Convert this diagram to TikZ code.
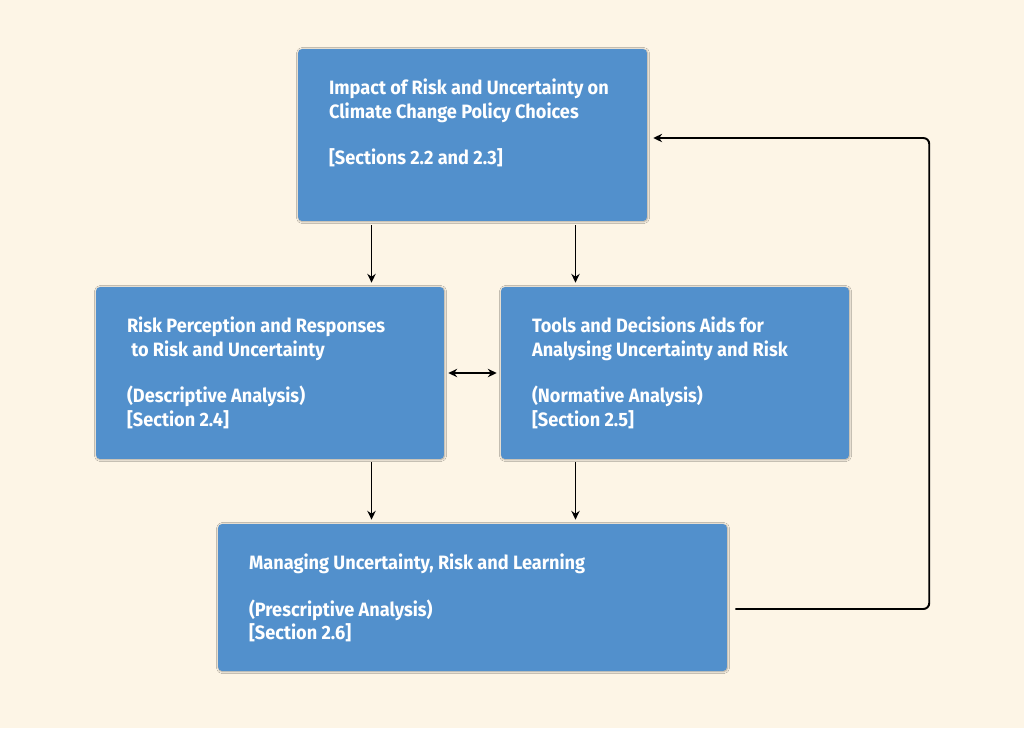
\documentclass[tikz,border=0pt]{standalone}
\usepackage{fontspec}
\setmainfont{Fira Sans}[FakeStretch=0.94]
\usepackage{tikz}
\usetikzlibrary{arrows.meta, shadows.blur}

\definecolor{paper}{RGB}{253,245,230}
\definecolor{boxblue}{RGB}{82,144,204}

\tikzset{
	block/.style={rectangle, rounded corners=2.3pt, fill=boxblue, draw=none, inner sep=0pt,
		blur shadow={shadow xshift=0.3pt, shadow yshift=-0.3pt, shadow blur radius=1.2pt, shadow opacity=40}},
	blocktext/.style={anchor=north west, inner sep=0pt, align=left, text=white,
		font=\fontsize{11}{13.3}\selectfont\bfseries},
	arr/.style={-{Stealth[length=5pt, width=4.8pt]}, line width=1.1pt, black},
	darr/.style={{Stealth[length=5pt, width=4.8pt]}-{Stealth[length=5pt, width=4.8pt]}, line width=1.1pt, black}
}

\begin{document}
\begin{tikzpicture}[x=0.02cm, y=-0.02cm]
	\fill[paper] (0,0) rectangle (1024,728);
	\useasboundingbox (0,0) rectangle (1024,728);
	%
	\node[block, minimum width=6.98cm, minimum height=3.44cm] (impact) at (472.5,135) {};
	\node[block, minimum width=6.96cm, minimum height=3.44cm] (percept) at (270,373) {};
	\node[block, minimum width=6.96cm, minimum height=3.44cm] (tools) at (675,373) {};
	\node[block, minimum width=10.18cm, minimum height=2.94cm] (manage) at (472.5,597.5) {};
	%
	\node[blocktext] (impactText) at ([shift={(0.62cm,-0.6cm)}]impact.north west)
		{Impact of Risk and Uncertainty on\\ Climate Change Policy Choices\\[13.3pt] {[Sections 2.2 and 2.3]}};
	\node[blocktext] (perceptText) at ([shift={(0.62cm,-0.6cm)}]percept.north west)
		{Risk Perception and Responses\\ \ to Risk and Uncertainty\\[13.3pt] (Descriptive Analysis)\\ {[Section 2.4]}};
	\node[blocktext] (toolsText) at ([shift={(0.62cm,-0.6cm)}]tools.north west)
		{Tools and Decisions Aids for\\ Analysing Uncertainty and Risk\\[13.3pt] (Normative Analysis)\\ {[Section 2.5]}};
	\node[blocktext] (manageText) at ([shift={(0.62cm,-0.6cm)}]manage.north west)
		{Managing Uncertainty, Risk and Learning\\[13.3pt] (Prescriptive Analysis)\\ {[Section 2.6]}};
	%
	\draw[arr, shorten <=2.3pt, shorten >=2.3pt] ([xshift=-2.02cm]impact.south) -- ([xshift=-2.02cm]impact.south |- percept.north);
	\draw[arr, shorten <=2.3pt, shorten >=2.3pt] ([xshift=2.06cm]impact.south) -- ([xshift=2.06cm]impact.south |- tools.north);
	\draw[arr, shorten <=1.7pt, shorten >=2.3pt] ([xshift=-2.02cm]manage.north |- percept.south) -- ([xshift=-2.02cm]manage.north);
	\draw[arr, shorten <=1.7pt, shorten >=2.3pt] ([xshift=2.06cm]manage.north |- tools.south) -- ([xshift=2.06cm]manage.north);
	\draw[darr, shorten <=2.3pt, shorten >=2.3pt] (percept.east) -- (tools.west);
	%
	\draw[arr, rounded corners=3.4pt] ([shift={(0.16cm,-0.23cm)}]manage.east) -| ([shift={(5.64cm,-0.06cm)}]impact.east) -- ([shift={(0.12cm,-0.06cm)}]impact.east);
\end{tikzpicture}
\end{document}
